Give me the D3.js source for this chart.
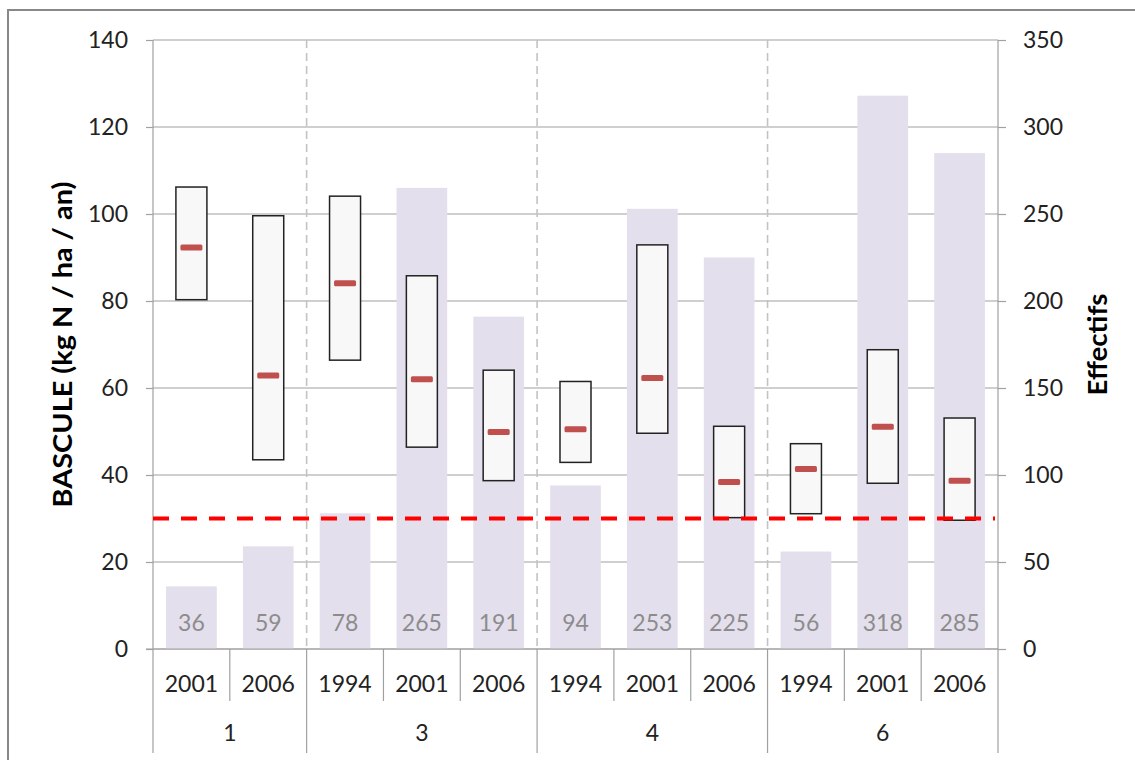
<!DOCTYPE html>
<html>
<head>
<meta charset="utf-8">
<script src="https://cdn.jsdelivr.net/npm/d3@7"></script>
<style>
  body { margin: 0; background: #fff; }
  svg text { font-family: Lato, "Open Sans", sans-serif; }
</style>
</head>
<body>
<svg id="chart" width="1135" height="760"></svg>
<script>
// DATA
const years = ['2001', '2006', '1994', '2001', '2006', '1994', '2001', '2006', '1994', '2001', '2006'];
const groupOf = ['1', '1', '3', '3', '3', '4', '4', '4', '6', '6', '6'];
const groups = ['1', '3', '4', '6'];
const counts = [36, 59, 78, 265, 191, 94, 253, 225, 56, 318, 285];
const boxHigh = [106.2, 99.6, 104.1, 85.8, 64.1, 61.5, 92.9, 51.2, 47.2, 68.8, 53.1];
const boxLow = [80.3, 43.5, 66.4, 46.4, 38.7, 42.9, 49.6, 30.2, 31.1, 38.1, 29.6];
const medians = [92.3, 62.9, 84.1, 62.0, 49.9, 50.5, 62.3, 38.4, 41.4, 51.1, 38.7];
const threshold = 30;
const leftTicks = [0, 20, 40, 60, 80, 100, 120, 140];
const rightTicks = [0, 50, 100, 150, 200, 250, 300, 350];

const svg = d3.select('#chart');
const plotLeft = 153, plotRight = 998, plotTop = 40, plotBottom = 649;
const fs = 23;

// outer frame
svg.append('rect')
  .attr('x', 8).attr('y', 10).attr('width', 1140).attr('height', 770)
  .attr('fill', 'none').attr('stroke', '#888').attr('stroke-width', 2);

const x = d3.scaleBand().domain(d3.range(years.length)).range([plotLeft, plotRight]).padding(0);
const yL = d3.scaleLinear().domain([0, 140]).range([plotBottom, plotTop]);
const yR = d3.scaleLinear().domain([0, 350]).range([plotBottom, plotTop]);
const bw = x.bandwidth();

// horizontal grid
svg.append('g').selectAll('line').data(leftTicks).join('line')
  .attr('x1', plotLeft).attr('x2', plotRight)
  .attr('y1', d => yL(d)).attr('y2', d => yL(d))
  .attr('stroke', '#a0a0a0').attr('stroke-width', 1.2);

// left axis
const axL = svg.append('g').attr('transform', `translate(${plotLeft},0)`)
  .call(d3.axisLeft(yL).tickValues(leftTicks).tickSize(7).tickPadding(18));
axL.select('.domain').remove();
axL.selectAll('line').attr('stroke', '#a0a0a0').attr('stroke-width', 1.2);
axL.selectAll('text').attr('font-size', fs).attr('fill', '#222')
  .style('font-family', 'Lato, sans-serif');

// right axis
const axR = svg.append('g').attr('transform', `translate(${plotRight},0)`)
  .call(d3.axisRight(yR).tickValues(rightTicks).tickSize(8).tickPadding(17));
axR.select('.domain').remove();
axR.selectAll('line').attr('stroke', '#a0a0a0').attr('stroke-width', 1.2);
axR.selectAll('text').attr('font-size', fs).attr('fill', '#222')
  .style('font-family', 'Lato, sans-serif');

// group boundaries (index where each group starts)
const groupStarts = groups.map(g => groupOf.indexOf(g));
const groupEnds = groups.map(g => groupOf.lastIndexOf(g));

// vertical dashed separators inside plot
svg.append('g').selectAll('line').data(groupStarts.slice(1)).join('line')
  .attr('x1', d => x(d)).attr('x2', d => x(d))
  .attr('y1', plotTop).attr('y2', plotBottom)
  .attr('stroke', '#c3c3c3').attr('stroke-width', 1.6)
  .attr('stroke-dasharray', '8,5');

// count bars
svg.append('g').selectAll('rect').data(counts).join('rect')
  .attr('x', (d, i) => x(i) + bw * 0.17)
  .attr('width', bw * 0.66)
  .attr('y', d => yR(d))
  .attr('height', d => yR(0) - yR(d))
  .attr('fill', '#e4dfec');

// count labels
svg.append('g').selectAll('text').data(counts).join('text')
  .attr('x', (d, i) => x(i) + bw / 2)
  .attr('y', 631)
  .attr('text-anchor', 'middle')
  .attr('font-size', fs)
  .attr('fill', '#8c8c8c')
  .text(d => d);

// left and right axis lines
svg.append('line').attr('x1', plotLeft).attr('x2', plotLeft).attr('y1', plotTop).attr('y2', 753)
  .attr('stroke', '#a0a0a0').attr('stroke-width', 1.2);
svg.append('line').attr('x1', plotRight).attr('x2', plotRight).attr('y1', plotTop).attr('y2', 753)
  .attr('stroke', '#a0a0a0').attr('stroke-width', 1.2);

// bottom axis line
svg.append('line').attr('x1', plotLeft - 7).attr('x2', plotRight).attr('y1', plotBottom).attr('y2', plotBottom)
  .attr('stroke', '#a0a0a0').attr('stroke-width', 1.2);

// year separators below axis
svg.append('g').selectAll('line').data(d3.range(1, years.length)).join('line')
  .attr('x1', d => x(d)).attr('x2', d => x(d))
  .attr('y1', plotBottom)
  .attr('y2', d => groupStarts.includes(d) ? 753 : 701)
  .attr('stroke', '#a0a0a0').attr('stroke-width', 1.2);

// year labels
svg.append('g').selectAll('text').data(years).join('text')
  .attr('x', (d, i) => x(i) + bw / 2)
  .attr('y', 692)
  .attr('text-anchor', 'middle')
  .attr('font-size', fs)
  .attr('fill', '#222')
  .text(d => d);

// group labels
svg.append('g').selectAll('text').data(groups).join('text')
  .attr('x', (d, i) => (x(groupStarts[i]) + x(groupEnds[i]) + bw) / 2)
  .attr('y', 741)
  .attr('text-anchor', 'middle')
  .attr('font-size', fs)
  .attr('fill', '#222')
  .text(d => d);

// boxes
const boxW = 31;
svg.append('g').selectAll('rect').data(boxHigh).join('rect')
  .attr('x', (d, i) => x(i) + bw / 2 - boxW / 2)
  .attr('width', boxW)
  .attr('y', d => yL(d))
  .attr('height', (d, i) => yL(boxLow[i]) - yL(d))
  .attr('fill', '#f8f8f8')
  .attr('stroke', '#222')
  .attr('stroke-width', 1.5);

// median marks
svg.append('g').selectAll('rect').data(medians).join('rect')
  .attr('x', (d, i) => x(i) + bw / 2 - 11)
  .attr('width', 22)
  .attr('y', d => yL(d) - 3)
  .attr('height', 6)
  .attr('rx', 1.5)
  .attr('fill', '#c0504d');

// threshold line
svg.append('line')
  .attr('x1', plotLeft).attr('x2', plotRight - 3)
  .attr('y1', yL(threshold)).attr('y2', yL(threshold))
  .attr('stroke', '#ff0000').attr('stroke-width', 4)
  .attr('stroke-dasharray', '16,12');

// axis titles
svg.append('text')
  .attr('transform', `translate(72,${(plotTop + plotBottom) / 2}) rotate(-90)`)
  .attr('text-anchor', 'middle')
  .attr('font-size', 27).attr('font-weight', 'bold').attr('fill', '#000')
  .attr('textLength', 326).attr('lengthAdjust', 'spacingAndGlyphs')
  .text('BASCULE (kg N / ha / an)');

svg.append('text')
  .attr('transform', `translate(1107,${(plotTop + plotBottom) / 2}) rotate(-90)`)
  .attr('text-anchor', 'middle')
  .attr('font-size', 27).attr('font-weight', 'bold').attr('fill', '#000')
  .attr('textLength', 102).attr('lengthAdjust', 'spacingAndGlyphs')
  .text('Effectifs');
</script>
</body>
</html>
